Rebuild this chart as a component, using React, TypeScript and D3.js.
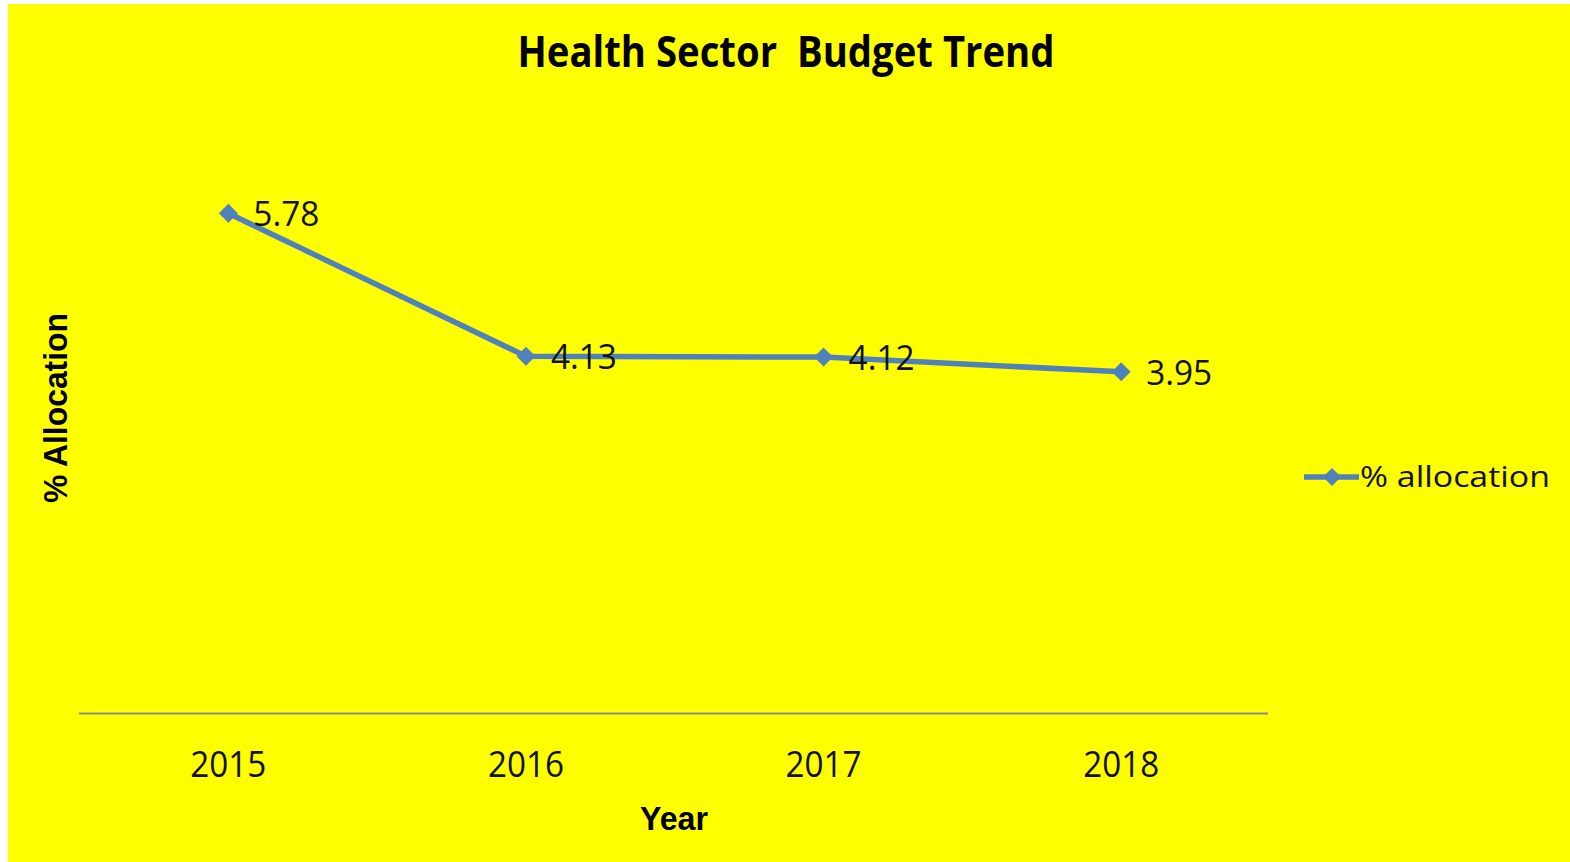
import React from "react";
import * as d3 from "d3";

const years: string[] = ["2015", "2016", "2017", "2018"];
const allocation: number[] = [5.78, 4.13, 4.12, 3.95];
const yDomain: [number, number] = [0, 8];
const seriesName = "% allocation";
const titleText = "Health Sector  Budget Trend";
const xTitle = "Year";
const yTitle = "% Allocation";

const W = 1570;
const H = 862;
const BLUE = "#4F81BD";
const FONT = "'Open Sans', 'Noto Sans', sans-serif";
const FONT_B = "'Liberation Sans', Arial, sans-serif";

function diamond(cx: number, cy: number, r: number) {
  return `M${cx},${cy - r}L${cx + r},${cy}L${cx},${cy + r}L${cx - r},${cy}Z`;
}

export default function App() {
  const x = d3.scalePoint<string>().domain(years).range([79.5, 1270]).padding(0.5);
  const y = d3.scaleLinear().domain(yDomain).range([714, 21]);
  const pts = years.map((yr, i) => ({ yr, v: allocation[i], px: x(yr) as number, py: y(allocation[i]) }));
  const line = d3
    .line<{ px: number; py: number }>()
    .x((d) => d.px)
    .y((d) => d.py);

  return (
    <svg
      width={W}
      height={H}
      style={{ position: "absolute", left: 0, top: 0, display: "block" }}
    >
      <rect x={0} y={0} width={W} height={H} fill="#ffffff" />
      <rect x={8} y={4} width={W - 8} height={H - 4} fill="#FFFF00" />

      <text
        x={786}
        y={67}
        textAnchor="middle"
        fontFamily={FONT}
        fontWeight={700}
        fontSize={43}
        textLength={537}
        lengthAdjust="spacingAndGlyphs"
        fill="#000"
        style={{ whiteSpace: "pre" }}
        xmlSpace="preserve"
      >
        {titleText}
      </text>

      {/* category axis line */}
      <line x1={79} x2={1268} y1={713.5} y2={713.5} stroke="#8A8A8A" strokeWidth={1.8} />

      {years.map((yr) => (
        <text
          key={yr}
          x={x(yr)}
          y={777}
          textAnchor="middle"
          fontFamily={FONT}
          fontSize={37}
          textLength={76}
          lengthAdjust="spacingAndGlyphs"
          fill="#111"
        >
          {yr}
        </text>
      ))}

      <text
        x={674}
        y={830}
        textAnchor="middle"
        fontFamily={FONT_B}
        fontWeight={700}
        fontSize={33}
        textLength={68}
        lengthAdjust="spacingAndGlyphs"
        fill="#000"
      >
        {xTitle}
      </text>

      <text
        transform="translate(67,408) rotate(-90)"
        textAnchor="middle"
        fontFamily={FONT_B}
        fontWeight={700}
        fontSize={33}
        textLength={190}
        lengthAdjust="spacingAndGlyphs"
        fill="#000"
      >
        {yTitle}
      </text>

      <path d={line(pts) || ""} fill="none" stroke={BLUE} strokeWidth={5.5} strokeLinejoin="round" />
      {pts.map((p) => (
        <path key={p.yr} d={diamond(p.px, p.py, 9.5)} fill={BLUE} />
      ))}
      {pts.map((p) => (
        <text
          key={"l" + p.yr}
          x={p.px + 25}
          y={p.py + 13}
          fontFamily={FONT}
          fontSize={35}
          textLength={66}
          lengthAdjust="spacingAndGlyphs"
          fill="#111"
        >
          {p.v.toFixed(2)}
        </text>
      ))}

      {/* legend */}
      <line x1={1304} x2={1359} y1={477} y2={477} stroke={BLUE} strokeWidth={5.5} />
      <path d={diamond(1332, 477, 9)} fill={BLUE} />
      <text
        x={1360}
        y={487}
        fontFamily={FONT}
        fontSize={30}
        textLength={190}
        lengthAdjust="spacingAndGlyphs"
        fill="#111"
      >
        {seriesName}
      </text>
    </svg>
  );
}
